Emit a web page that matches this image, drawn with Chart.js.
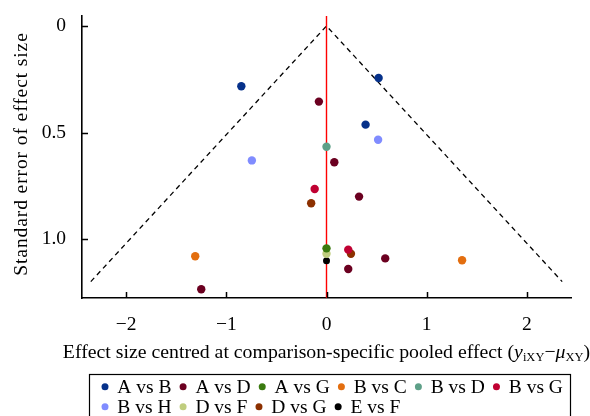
<!DOCTYPE html>
<html>
<head>
<meta charset="utf-8">
<script src="https://cdn.jsdelivr.net/npm/chart.js@4.4.1/dist/chart.umd.min.js"></script>
<style>
  html, body { margin: 0; padding: 0; background: #fff; }
  canvas { display: block; }
</style>
</head>
<body>
<canvas id="c" width="590" height="416"></canvas>
<script>
// ---- data ----
const categories = ["A vs B", "A vs D", "A vs G", "B vs C", "B vs D", "B vs G", "B vs H", "D vs F", "D vs G", "E vs F"];
// effect size centred (x) and standard error (y) for each comparison
const effAB = [-0.85, 0.52, 0.39];
const seAB  = [0.283, 0.244, 0.463];
const effAD = [-0.076, 0.078, 0.325, 0.586, 0.217, -1.25];
const seAD  = [0.355, 0.64, 0.801, 1.091, 1.141, 1.236];
const effAG = [0];
const seAG  = [1.044];
const effBC = [-1.31, 1.353];
const seBC  = [1.081, 1.10];
const effBD = [0];
const seBD  = [0.567];
const effBG = [-0.118, 0.217];
const seBG  = [0.765, 1.05];
const effBH = [-0.745, 0.515];
const seBH  = [0.631, 0.534];
const effDF = [0];
const seDF  = [1.069];
const effDG = [-0.153, 0.244];
const seDG  = [0.832, 1.069];
const effEF = [0];
const seEF  = [1.102];
// funnel (pseudo 95% limits) and reference line
const funnelX = [-2.352, 0, 2.352];
const funnelY = [1.2, 0, 1.2];
const refX = [0, 0];
const refY = [-0.047, 1.277];
// ticks
const xTickValues = [-2, -1, 0, 1, 2];
const xTickLabels = ["\u22122", "\u22121", "0", "1", "2"];
const yTickValues = [0, 0.5, 1.0];
const yTickLabels = ["0", "0.5", "1.0"];
const xRange = [-2.44, 2.44];
const yRange = [-0.047, 1.277];

// ---- styles ----
const seriesColors = ["#06318a", "#6b0020", "#3a7a0f", "#e36e0f", "#5ea088", "#c00032", "#808cff", "#bfcd7e", "#8c3000", "#000000"];
const seriesRadius = [4.2, 4.2, 4.2, 4.2, 4.2, 4.2, 4.2, 4.2, 4.2, 3.5];
const FONT = '"Liberation Serif", "Times New Roman", serif';
const FS = 19.5;

const effs = [effAB, effAD, effAG, effBC, effBD, effBG, effBH, effDF, effDG, effEF];
const ses  = [seAB, seAD, seAG, seBC, seBD, seBG, seBH, seDF, seDG, seEF];

const pointSets = categories.map((name, i) => ({
  type: 'scatter',
  label: name,
  data: effs[i].map((v, j) => ({ x: v, y: ses[i][j] })),
  backgroundColor: seriesColors[i],
  borderColor: seriesColors[i],
  borderWidth: 0,
  pointRadius: seriesRadius[i],
  pointHoverRadius: seriesRadius[i],
  order: 0
}));

const funnelSet = {
  type: 'line',
  label: '_funnel',
  data: funnelX.map((v, j) => ({ x: v, y: funnelY[j] })),
  borderColor: '#000',
  borderWidth: 1.3,
  borderDash: [5, 4],
  pointRadius: 0,
  fill: false,
  tension: 0,
  order: 2
};
const refSet = {
  type: 'line',
  label: '_ref',
  data: refX.map((v, j) => ({ x: v, y: refY[j] })),
  borderColor: '#ff0000',
  borderWidth: 1.4,
  pointRadius: 0,
  fill: false,
  order: 1
};

// inward tick marks
const inwardTicks = {
  id: 'inwardTicks',
  afterDatasetsDraw(chart) {
    const ctx = chart.ctx, xs = chart.scales.x, ys = chart.scales.y;
    const a = chart.chartArea;
    ctx.save();
    ctx.strokeStyle = '#000';
    ctx.lineWidth = 1.5;
    ctx.beginPath();
    xTickValues.forEach(v => {
      const p = Math.round(xs.getPixelForValue(v)) + 0.5;
      ctx.moveTo(p, a.bottom); ctx.lineTo(p, a.bottom - 6);
    });
    yTickValues.forEach(v => {
      const p = Math.round(ys.getPixelForValue(v)) + 0.5;
      ctx.moveTo(a.left, p); ctx.lineTo(a.left + 6, p);
    });
    ctx.stroke();
    ctx.restore();
  }
};

// axis titles (with italic symbols and subscripts) and boxed legend
const extras = {
  id: 'extras',
  afterDraw(chart) {
    const ctx = chart.ctx;
    const a = chart.chartArea;
    ctx.save();
    ctx.fillStyle = '#000';

    // y title
    ctx.save();
    ctx.font = FS + 'px ' + FONT;
    if ('letterSpacing' in ctx) ctx.letterSpacing = '0.9px';
    ctx.translate(27, 154);
    ctx.rotate(-Math.PI / 2);
    ctx.textAlign = 'center';
    ctx.textBaseline = 'alphabetic';
    ctx.fillText('Standard error of effect size', 0, 0);
    ctx.restore();

    // x title
    const T = 19.8;
    const segs = [
      { t: 'Effect size centred at comparison-specific pooled effect (', f: T + 'px ' + FONT, dy: 0 },
      { t: 'y', f: 'italic ' + T + 'px ' + FONT, dy: 0 },
      { t: 'iXY', f: '12.5px ' + FONT, dy: 3 },
      { t: '\u2212', f: T + 'px ' + FONT, dy: 0 },
      { t: '\u03bc', f: 'italic ' + T + 'px ' + FONT, dy: 0 },
      { t: 'XY', f: '12.5px ' + FONT, dy: 3 },
      { t: ')', f: T + 'px ' + FONT, dy: 0 }
    ];
    ctx.textAlign = 'left';
    ctx.textBaseline = 'alphabetic';
    let total = 0;
    segs.forEach(s => { ctx.font = s.f; s.w = ctx.measureText(s.t).width; total += s.w; });
    let x = (a.left + a.right) / 2 - total / 2;
    const base = 357.5;
    segs.forEach(s => { ctx.font = s.f; ctx.fillText(s.t, x, base + s.dy); x += s.w; });

    // legend box
    ctx.strokeStyle = '#000';
    ctx.lineWidth = 1.2;
    ctx.strokeRect(89.5, 374.5, 481, 60);
    ctx.font = FS + 'px ' + FONT;
    let cx = 105, cy = 386.7, n = 0;
    chart.data.datasets.forEach((ds) => {
      if (ds.label.startsWith('_')) return;
      if (n === 6) { cx = 105; cy += 20; }
      n++;
      ctx.fillStyle = ds.backgroundColor;
      ctx.beginPath();
      ctx.arc(cx, cy, 3.5, 0, Math.PI * 2);
      ctx.fill();
      ctx.fillStyle = '#000';
      ctx.fillText(ds.label, cx + 12.3, cy + 5.8);
      cx += 12.3 + ctx.measureText(ds.label).width + 11.6;
    });
    ctx.restore();
  }
};

new Chart(document.getElementById('c'), {
  data: { datasets: [refSet, funnelSet, ...pointSets] },
  options: {
    responsive: false,
    devicePixelRatio: 1,
    animation: false,
    events: [],
    layout: { padding: { left: 0, top: 16, right: 19, bottom: 0 } },
    plugins: { legend: { display: false }, tooltip: { enabled: false } },
    scales: {
      x: {
        type: 'linear',
        position: 'bottom',
        min: xRange[0], max: xRange[1],
        afterBuildTicks: s => { s.ticks = xTickValues.map(v => ({ value: v })); },
        afterFit: s => { s.height = 118; s.paddingLeft = 0; s.paddingRight = 0; },
        grid: { display: false, drawTicks: false },
        border: { display: true, color: '#000', width: 1.6 },
        ticks: {
          padding: 15,
          color: '#000',
          font: { family: FONT, size: FS },
          callback: (v) => xTickLabels[xTickValues.indexOf(v)]
        }
      },
      y: {
        type: 'linear',
        reverse: true,
        min: yRange[0], max: yRange[1],
        afterBuildTicks: s => { s.ticks = yTickValues.map(v => ({ value: v })); },
        afterFit: s => { s.width = 82; s.paddingTop = 0; s.paddingBottom = 0; },
        grid: { display: false, drawTicks: false },
        border: { display: true, color: '#000', width: 1.6 },
        ticks: {
          padding: 16,
          color: '#000',
          font: { family: FONT, size: FS },
          callback: (v) => yTickLabels[yTickValues.indexOf(v)]
        }
      }
    }
  },
  plugins: [inwardTicks, extras]
});
</script>
</body>
</html>
